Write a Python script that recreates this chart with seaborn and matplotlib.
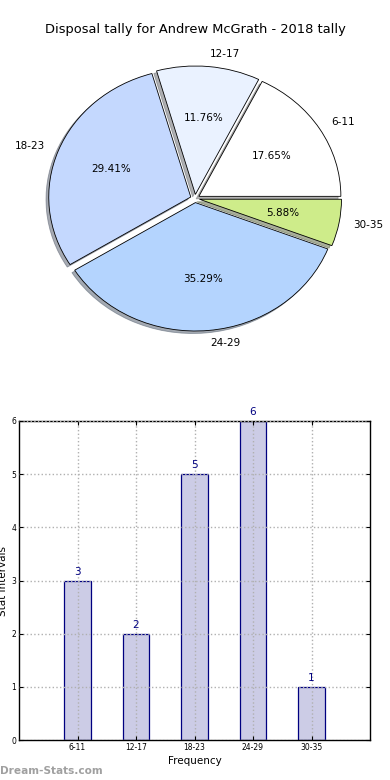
import matplotlib
matplotlib.use("Agg")
import matplotlib.pyplot as plt
import seaborn as sns
import pandas as pd

categories = ["6-11", "12-17", "18-23", "24-29", "30-35"]
counts = [3, 2, 5, 6, 1]
pie_colors = ["#ffffff", "#eaf2ff", "#c4d8fe", "#b4d4fe", "#ceec8a"]
explode = [0.032, 0.032, 0.032, 0.032, 0.032]
yticks = [0, 1, 2, 3, 4, 5, 6]
title = "Disposal tally for Andrew McGrath - 2018 tally"

sns.set_style("white")
plt.rcParams["font.family"] = ["DejaVu Sans"]
plt.rcParams["text.color"] = "black"
plt.rcParams["axes.labelcolor"] = "black"
plt.rcParams["xtick.color"] = "black"
plt.rcParams["ytick.color"] = "black"

fig = plt.figure(figsize=(3.9, 7.8), dpi=100)

# Pie
axp = fig.add_axes([17.5/390, 1 - 359/780, 355/390, 321/780])
wedges, texts, autotexts = axp.pie(
    counts, labels=categories, colors=pie_colors, explode=explode,
    autopct="%1.2f%%", shadow={"ox": -0.014, "oy": -0.014, "shade": 0.6},
    startangle=0,
    wedgeprops=dict(edgecolor="black", linewidth=0.6),
    textprops=dict(fontsize=7.5, color="black"))
axp.set_aspect("auto")
axp.set_xlim(-1.25, 1.25)
axp.set_ylim(-1.25, 1.25)
fig.text(0.5, 1 - 30/780, title, ha="center", va="center", fontsize=9.4, color="black")

# Bar
axb = fig.add_axes([19/390, 40/780, 351/390, 319/780])
df = pd.DataFrame({"interval": categories, "count": counts})
sns.barplot(data=df, x="interval", y="count", ax=axb, color="#ccccE6",
            saturation=1, width=0.45, edgecolor="navy", linewidth=0.9)
axb.set_xlim(-1, 5)
axb.set_ylim(0, 6)
axb.set_yticks(yticks)
axb.tick_params(axis="both", which="both", labelsize=5.5, direction="in",
                top=True, right=True, bottom=True, left=True, length=3, pad=2)
axb.grid(True, linestyle=":", color="#b0b0b0", linewidth=1)
axb.set_axisbelow(False)
for s in axb.spines.values():
    s.set_color("black")
    s.set_linewidth(1)
for i, v in enumerate(counts):
    axb.text(i, v + 0.07, str(v), ha="center", va="bottom", fontsize=7.5, color="navy")
axb.set_xlabel("Frequency", fontsize=7.5, labelpad=3)
axb.set_ylabel("Stat Intervals", fontsize=7.5)
axb.yaxis.set_label_coords(-0.03, 0.5)

fig.text(0.0, 1 - 771/780, "Dream-Stats.com", ha="left", va="center",
         fontsize=7.6, color="#a0a0a0", fontweight="bold")

fig.savefig("out.png", dpi=100)
